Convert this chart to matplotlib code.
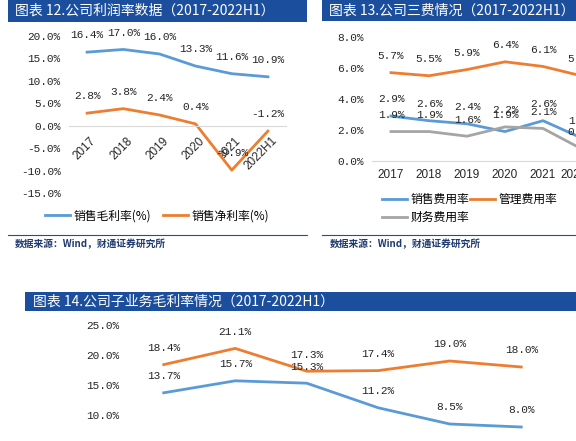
import matplotlib
matplotlib.use('Agg')
import matplotlib.pyplot as plt
import matplotlib.transforms as mtransforms
from matplotlib.patches import Rectangle
from matplotlib.lines import Line2D

W, H = 576, 441

years = ['2017', '2018', '2019', '2020', '2021', '2022H1']

# 图表12 公司利润率数据
gross_margin = [16.4, 17.0, 16.0, 13.3, 11.6, 10.9]
net_margin = [2.8, 3.8, 2.4, 0.4, -9.9, -1.2]
margin_ticks = [20, 15, 10, 5, 0, -5, -10, -15]

# 图表13 公司三费情况
sales_exp = [2.9, 2.6, 2.4, 1.9, 2.6, 1.5]
admin_exp = [5.7, 5.5, 5.9, 6.4, 6.1, 5.5]
fin_exp = [1.9, 1.9, 1.6, 2.2, 2.1, 0.8]
exp_ticks = [0, 2, 4, 6, 8]

# 图表14 公司子业务毛利率情况 (legend is cut off in the source)
seg_upper = [18.4, 21.1, 17.3, 17.4, 19.0, 18.0]
seg_lower = [13.7, 15.7, 15.3, 11.2, 8.5, 8.0]
seg_ticks = [5, 10, 15, 20, 25]

BLUE = '#5B9BD5'
ORANGE = '#ED7D31'
GRAY = '#A5A5A5'
BAR = '#1B4F9E'
NAVY = '#1F3A6E'
NUM_FONT = ['Liberation Mono', 'Noto Sans CJK SC']
CJK_FONT = ['Noto Sans CJK SC', 'DejaVu Sans']

plt.rcParams['font.family'] = CJK_FONT

fig = plt.figure(figsize=(W / 100, H / 100), dpi=100)


def px_rect(left, top, width, height):
    # pixel box (from top-left of the image) -> figure fraction
    return [left / W, 1 - (top + height) / H, width / W, height / H]


def title_bar(left, top, width, height, text, text_x):
    fig.add_artist(Rectangle((left / W, 1 - (top + height) / H), width / W, height / H,
                             transform=fig.transFigure, color=BAR, lw=0))
    fig.text(text_x / W, 1 - (top + height / 2) / H, text, color='white',
             fontsize=10, va='center', ha='left')


def source_note(left, width, text_x):
    fig.add_artist(Line2D([left / W, (left + width) / W], [1 - 235 / H] * 2,
                          transform=fig.transFigure, color=BAR, lw=0.8))
    fig.text(text_x / W, 1 - 244 / H, '数据来源：Wind，财通证券研究所', color=NAVY,
             fontsize=7, fontweight='bold', va='center')


def setup_axis(ax, ticks, ylim, xpad=6):
    ax.set_ylim(*ylim)
    ax.set_xlim(-0.5, len(years) - 0.5)
    for s in ['top', 'right', 'left']:
        ax.spines[s].set_visible(False)
    ax.spines['bottom'].set_color('#D9D9D9')
    ax.spines['bottom'].set_linewidth(0.8)
    ax.set_yticks(ticks)
    ax.set_yticklabels([f'{t:.1f}%' for t in ticks], family=NUM_FONT, fontsize=8, color='#262626')
    ax.tick_params(length=0)
    ax.tick_params(axis='y', pad=6)
    ax.tick_params(axis='x', pad=xpad)
    ax.set_xticks(range(len(years)))
    ax.patch.set_visible(False)


def plot_series(ax, values, color, label=None):
    line, = ax.plot(range(len(values)), values, color=color, lw=2, label=label)
    for i, v in enumerate(values):
        ax.annotate(f'{v:.1f}%', (i, v), xytext=(0, 12), textcoords='offset points',
                    ha='center', va='center', fontsize=8, family=NUM_FONT, color='#262626')
    return line


# ---- 图表12 ----
title_bar(8, 0, 299, 22, '图表 12.公司利润率数据（2017-2022H1）', 15)
ax1 = fig.add_axes(px_rect(69, 36, 217, 157))
setup_axis(ax1, margin_ticks, (-15, 20), xpad=5)
ax1.spines['bottom'].set_position(('data', 0))
l1 = plot_series(ax1, gross_margin, BLUE, '销售毛利率(%)')
l2 = plot_series(ax1, net_margin, ORANGE, '销售净利率(%)')
ax1.set_xticklabels(years, rotation=45, ha='right', rotation_mode='anchor',
                    family=['Liberation Sans'], fontsize=8.5, color='#262626')
shift = mtransforms.ScaledTranslation(0.03, -0.02, fig.dpi_scale_trans)
for lab in ax1.get_xticklabels():
    lab.set_transform(lab.get_transform() + shift)
ax1.legend(handles=[l1, l2], loc='center left', bbox_to_anchor=(45 / W, 1 - 216 / H),
           bbox_transform=fig.transFigure, ncol=2, frameon=False, fontsize=8.5,
           handlelength=2.1, handletextpad=0.3, columnspacing=1.0,
           borderpad=0, borderaxespad=0)
source_note(8, 299, 15)

# ---- 图表13 ----
title_bar(322, 0, 254, 21, '图表 13.公司三费情况（2017-2022H1）', 329)
ax2 = fig.add_axes(px_rect(372, 37, 228, 124))
setup_axis(ax2, exp_ticks, (0, 8))
l3 = plot_series(ax2, sales_exp, BLUE, '销售费用率')
l4 = plot_series(ax2, admin_exp, ORANGE, '管理费用率')
l5 = plot_series(ax2, fin_exp, GRAY, '财务费用率')
ax2.set_xticklabels(years, family=['Liberation Sans'], fontsize=8.5, color='#262626')
ax2.legend(handles=[l3, l5, l4], loc='center left', bbox_to_anchor=(382 / W, 1 - 208.5 / H),
           bbox_transform=fig.transFigure, ncol=2, frameon=False, fontsize=8.5,
           handlelength=2.1, handletextpad=0.3, columnspacing=0.1, labelspacing=0.4,
           borderpad=0, borderaxespad=0)
source_note(322, 254, 330)

# ---- 图表14 ----
title_bar(25, 292, 551, 19, '图表 14.公司子业务毛利率情况（2017-2022H1）', 33)
ax3 = fig.add_axes(px_rect(128, 325, 429, 150))
setup_axis(ax3, seg_ticks, (0, 25))
plot_series(ax3, seg_upper, ORANGE)
plot_series(ax3, seg_lower, BLUE)
ax3.set_xticklabels(years, family=['Liberation Sans'], fontsize=8.5)

fig.savefig('out.png', dpi=100)
